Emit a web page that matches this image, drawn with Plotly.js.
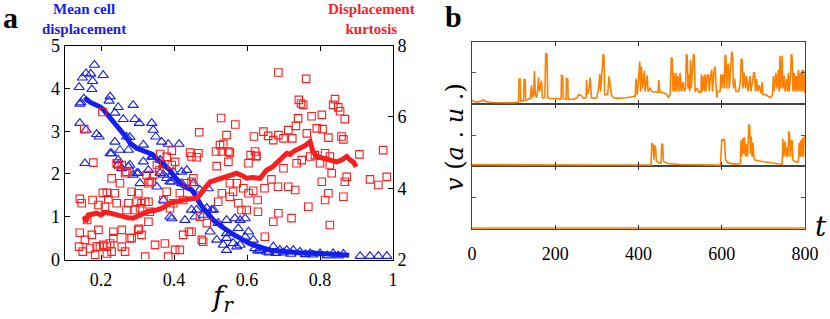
<!DOCTYPE html>
<html>
<head>
<meta charset="utf-8">
<script src="https://cdn.plot.ly/plotly-3.0.1.min.js"></script>
<style>html,body{margin:0;padding:0;background:#fff;}#chart{width:830px;height:319px;}</style>
</head>
<body>
<div id="chart"></div>
<script>
// ---------- Panel a data ----------
const triX = [0.182,0.159,0.172,0.206,0.149,0.177,0.140,0.175,0.145,0.153,0.142,0.225,0.222,0.247,0.238,0.288,0.142,0.159,0.188,0.195,
  0.261,0.293,0.305,0.339,0.343,0.350,0.270,0.279,0.238,0.316,0.366,0.384,0.414,0.225,0.252,0.156,0.229,0.275,0.247,0.257,
  0.275,0.288,0.302,0.316,0.343,0.362,0.371,0.371,0.398,0.421,0.353,0.307,0.389,0.421,0.371,0.394,0.430,0.448,0.480,0.490,
  0.508,0.499,0.521,0.544,0.517,0.544,0.572,0.581,0.595,0.595,0.581,0.622,0.389,0.458,0.494,0.471,0.362,0.330,0.298,0.247,
  0.279,0.544,0.567,0.576,0.604,0.544,0.562,0.535,0.617,0.462,0.503,0.453,0.394,0.435,0.380,0.339,
  0.636,0.654,0.672,0.690,0.709,0.727,0.745,0.773,0.800,0.836,0.864,0.630,0.660,0.680,0.700,0.720,0.760,0.780,0.820,0.850,
  0.910,0.937,0.960,0.983];
const triY = [4.55,4.35,4.34,4.31,4.25,4.17,4.03,3.98,3.67,3.76,3.64,3.81,3.71,3.56,3.43,3.61,3.19,3.03,2.93,2.87,
  3.28,3.28,3.19,3.19,3.03,2.87,2.87,2.86,2.75,2.68,2.75,2.70,2.70,2.48,2.56,2.25,2.48,2.56,2.33,2.13,
  2.17,1.98,2.02,2.29,2.40,2.33,2.21,1.98,2.05,2.05,1.70,1.78,1.82,1.78,1.39,0.96,0.92,1.16,1.04,1.20,
  1.16,0.65,0.85,0.61,0.46,0.22,0.30,0.92,0.96,0.53,0.34,0.26,1.00,1.00,1.66,1.63,2.02,2.09,2.02,2.21,
  2.21,0.92,0.96,0.73,0.65,0.50,0.38,0.34,0.46,1.16,1.16,1.78,1.82,2.09,1.90,2.40,
  0.22,0.18,0.30,0.22,0.22,0.22,0.18,0.14,0.14,0.14,0.13,0.20,0.16,0.15,0.16,0.13,0.12,0.11,0.09,0.09,
  0.08,0.08,0.08,0.08];

const sqX = [0.686,0.762,0.742,0.748,0.754,0.841,0.850,0.855,0.868,0.836,0.529,0.740,0.777,0.805,0.568,0.544,0.469,0.791,0.807,0.823,
  0.764,0.734,0.713,0.700,0.724,0.619,0.645,0.658,0.672,0.686,0.859,0.864,0.204,0.154,0.526,0.535,0.531,0.553,0.444,0.462,
  0.394,0.362,0.380,0.622,0.626,0.973,0.908,0.786,0.814,0.827,0.467,0.515,0.549,0.448,0.517,0.549,0.610,0.625,0.604,0.736,
  0.750,0.773,0.800,0.827,0.832,0.873,0.868,0.805,0.814,0.823,0.864,0.937,0.960,0.983,0.700,0.713,0.732,0.685,0.667,0.648,
  0.629,0.617,0.630,0.585,0.599,0.576,0.562,0.572,0.553,0.531,0.521,0.672,0.686,0.722,0.768,0.827,0.649,0.471,0.480,0.441,
  0.425,0.416,0.403,0.384,0.375,0.348,0.321,0.389,0.398,0.425,0.435,0.448,0.416,0.380,0.371,0.339,0.360,0.325,0.330,0.302,
  0.307,0.321,0.275,0.270,0.293,0.243,0.238,0.229,0.252,0.270,0.247,0.142,0.147,0.177,0.205,0.193,0.216,0.220,0.211,0.162,
  0.142,0.156,0.140,0.150,0.170,0.175,0.193,0.188,0.197,0.184,0.216,0.225,0.216,0.234,0.234,0.257,0.266,0.284,0.302,0.311,
  0.179,0.243,0.257,0.266,0.353,0.394,0.403,0.453,0.334,0.343,0.284,0.298,0.311,0.330,0.334,0.206,0.229,0.257,0.279,0.304,
  0.330,0.490,0.476,0.448,0.553,0.604,0.590];
const sqY = [7.25,7.07,6.48,6.38,6.34,6.50,6.27,6.16,5.94,6.34,5.97,5.96,6.02,6.06,5.79,5.49,5.57,5.68,5.66,5.42,
  5.54,5.75,5.63,5.40,5.40,5.45,5.59,5.47,5.35,5.49,5.45,5.37,6.14,5.66,5.21,5.24,5.03,5.00,5.00,4.87,
  5.05,4.96,4.88,5.03,4.91,5.07,4.95,4.93,4.98,4.89,4.98,5.03,5.03,4.89,4.62,4.74,4.93,4.89,4.70,4.70,
  4.79,4.89,4.70,4.65,4.42,4.32,4.18,4.18,3.67,3.86,3.76,4.25,4.09,4.32,4.56,4.04,3.95,4.04,4.25,4.00,
  3.67,3.93,3.34,3.39,3.39,3.58,3.90,4.14,3.76,3.86,3.62,3.06,3.30,3.16,3.48,2.97,2.64,3.20,2.50,2.78,
  2.69,2.27,2.27,2.08,2.45,2.41,2.08,3.44,3.58,3.67,4.14,4.18,3.86,3.90,3.67,4.18,4.51,4.37,4.14,3.86,
  3.44,3.62,3.58,3.39,3.39,3.58,3.86,4.28,4.14,4.46,4.65,3.70,3.58,3.67,3.87,3.53,3.87,3.69,3.48,3.11,
  2.75,2.55,2.36,2.22,2.31,2.69,2.83,2.36,2.36,2.13,2.36,2.45,2.17,2.78,2.60,2.36,2.22,2.60,2.83,2.69,
  4.72,4.70,4.65,4.42,4.65,4.65,4.74,4.28,4.18,4.37,3.90,3.62,3.58,3.62,3.34,2.41,2.22,2.83,2.60,2.86,
  3.06,3.02,2.55,2.78,4.14,3.86,4.00];

const meanX = [0.155,0.160,0.170,0.180,0.190,0.197,0.205,0.215,0.225,0.235,0.245,0.255,0.261,0.270,0.280,0.290,0.298,0.310,0.325,0.335,
  0.345,0.353,0.360,0.370,0.380,0.389,0.400,0.410,0.416,0.425,0.435,0.448,0.455,0.462,0.471,0.480,0.490,0.500,0.508,0.520,
  0.530,0.544,0.555,0.568,0.581,0.595,0.605,0.617,0.630,0.642,0.654,0.670,0.690,0.709,0.730,0.750,0.780,0.800,0.830,0.860,0.880];
const meanY = [3.72,3.75,3.68,3.65,3.60,3.57,3.52,3.42,3.34,3.20,3.10,3.02,2.95,2.85,2.72,2.65,2.60,2.56,2.52,2.48,
  2.42,2.37,2.30,2.22,2.15,2.09,1.95,1.85,1.78,1.72,1.68,1.63,1.55,1.42,1.31,1.20,1.08,1.00,0.92,0.83,
  0.77,0.69,0.62,0.56,0.50,0.42,0.38,0.34,0.30,0.26,0.24,0.21,0.19,0.18,0.16,0.15,0.15,0.14,0.12,0.10,0.10];

const kurtX = [0.155,0.158,0.165,0.175,0.188,0.200,0.210,0.225,0.240,0.250,0.261,0.275,0.288,0.300,0.316,0.330,0.353,0.370,0.389,0.405,
  0.425,0.440,0.462,0.470,0.480,0.490,0.499,0.520,0.544,0.560,0.572,0.585,0.599,0.615,0.636,0.645,0.654,0.670,0.681,0.695,
  0.709,0.718,0.730,0.745,0.760,0.773,0.780,0.791,0.805,0.818,0.830,0.846,0.860,0.873,0.882,0.891,0.899];
const kurtY = [3.20,3.05,3.25,3.28,3.30,3.25,3.32,3.30,3.25,3.22,3.20,3.17,3.16,3.22,3.30,3.35,3.39,3.45,3.58,3.62,
  3.67,3.70,3.72,3.80,3.95,4.08,4.18,4.25,4.32,4.38,4.42,4.36,4.28,4.30,4.28,4.40,4.51,4.60,4.70,4.85,
  4.98,4.95,5.05,5.12,5.20,5.31,5.05,4.89,4.85,4.79,4.78,4.74,4.80,4.89,4.80,4.74,4.60];

// ---------- Panel b data ----------
const topT = [0,5,15,25,28,32,50,80,100,110,112,113,116,117,124,125,128,129,135,140,143,145,148,150,152,155,158,160,162,165,
  167,169,175,177,180,182,190,200,214,215,218,219,226,227,230,231,245,252,256,262,268,274,275,277,280,284,287,295,300,304,
  307,309,312,315,317,319,326,329,332,335,340,350,370,380,392,394,397,400,403,405,407,410,414,416,421,423,428,432,440,447,
  449,451,460,468,472,476,479,481,483,485,487,490,492,495,498,500,503,507,510,513,515,517,519,521,523,525,527,530,532,534,
  536,541,545,550,551,553,556,558,560,562,565,568,570,573,576,578,581,584,586,588,590,596,598,600,602,604,606,608,610,612,
  614,616,618,621,624,626,628,631,634,640,644,647,649,651,654,657,660,663,666,668,670,674,677,679,681,684,686,690,694,697,
  699,705,712,717,722,724,726,730,733,736,738,740,742,745,747,750,752,756,758,760,762,765,767,769,771,774,776,779,781,784,
  786,789,791,793,795,797,800];
const topV = [0.12,0.08,0.06,0.10,0.14,0.08,0.05,0.04,0.04,0.06,0.06,0.80,0.80,0.10,0.10,0.78,0.78,0.12,0.15,0.18,0.60,0.20,0.30,1.06,0.30,0.20,0.50,0.86,0.40,0.70,
  0.75,0.20,0.20,1.63,1.60,0.20,0.17,0.18,0.16,0.92,0.90,0.18,0.15,0.82,0.80,0.16,0.15,0.20,0.30,0.28,0.18,0.20,0.77,0.30,0.40,0.85,0.20,0.18,0.20,0.50,
  0.96,0.40,0.90,1.60,1.55,0.30,0.30,0.89,0.60,0.30,0.20,0.18,0.20,0.22,0.25,0.82,0.30,0.82,1.36,0.40,1.20,0.50,1.07,0.40,0.92,0.40,0.50,0.40,0.38,0.38,
  0.77,0.38,0.37,0.30,0.21,0.30,1.50,1.45,0.40,1.00,0.40,1.00,0.40,0.90,0.40,1.00,0.40,0.70,0.40,0.50,1.60,1.55,0.50,0.95,0.40,1.40,0.50,1.00,1.60,1.55,
  0.40,0.50,0.38,0.38,0.95,0.40,0.90,0.40,0.95,0.40,0.90,0.95,0.40,0.90,1.10,0.40,1.00,1.20,0.50,0.20,0.40,0.40,0.95,0.50,0.90,0.95,0.50,1.57,1.55,0.50,
  1.20,1.30,0.50,1.00,1.68,1.60,0.50,0.82,0.40,0.40,0.60,1.47,1.40,0.50,1.00,0.50,0.90,0.40,0.85,0.90,0.40,0.80,1.00,1.00,0.40,0.80,0.40,0.60,0.35,0.70,
  0.30,0.30,0.25,0.20,0.30,0.90,0.40,1.00,0.50,1.10,0.40,1.55,0.50,1.55,0.50,0.90,0.40,0.80,0.40,1.00,0.40,0.90,1.60,1.55,0.40,1.00,0.40,0.90,0.40,1.10,
  0.40,1.00,0.40,1.10,0.40,1.10,0.35];

const midT = [0,100,200,300,400,430,432,435,437,439,441,443,450,454,456,458,460,470,500,550,597,600,603,605,607,609,615,630,645,646,
  648,651,653,655,657,660,662,665,667,669,671,673,675,677,679,690,710,730,745,747,749,752,755,757,759,761,763,765,767,769,
  771,775,780,784,786,788,790,792,794,796,798,800];
const midV = [0.04,0.03,0.03,0.03,0.03,0.03,0.72,0.70,0.20,0.66,0.60,0.15,0.10,0.10,0.72,0.70,0.15,0.08,0.05,0.03,0.03,0.86,0.80,0.86,0.84,0.20,0.10,0.06,0.08,0.83,
  0.30,0.90,0.40,0.93,0.30,0.70,0.30,1.34,1.30,0.40,0.95,0.30,0.75,0.30,0.20,0.16,0.12,0.07,0.05,0.88,0.30,0.80,0.30,0.60,0.30,1.12,1.00,0.30,0.80,0.83,
  0.20,0.15,0.12,0.14,0.75,0.30,0.83,0.30,0.90,0.30,0.95,0.90];

const botT = [0,200,400,600,800];
const botV = [0.03,0.03,0.03,0.03,0.03];

const xTicksA = [0.2,0.4,0.6,0.8,1];
const xTickTextA = ['0.2','0.4','0.6','0.8','1'];
const yTicksA = [0,1,2,3,4,5];
const y2TicksA = [2,4,6,8];
const tTicks = [0,200,400,600,800];

// ---------- styling ----------
const SERIF = 'Liberation Serif';
const MATH = 'DejaVu Serif';
const BLUE = 'rgb(20,30,240)';
const RED = 'rgb(250,30,30)';
const ORANGE = 'rgb(255,128,0)';
const W = 830, H = 319;
const fx = px => px / W;
const fy = py => 1 - py / H;

const traces = [
  {x: triX, y: triY, xaxis: 'x', yaxis: 'y', mode: 'markers', type: 'scatter',
   marker: {symbol: 'triangle-up-open', size: 9, color: BLUE, line: {width: 1.1, color: BLUE}}},
  {x: meanX, y: meanY, xaxis: 'x', yaxis: 'y', mode: 'lines', type: 'scatter',
   line: {color: BLUE, width: 5}},
  {x: sqX, y: sqY, xaxis: 'x', yaxis: 'y2', mode: 'markers', type: 'scatter',
   marker: {symbol: 'square-open', size: 7.5, color: RED, line: {width: 1.1, color: RED}}},
  {x: kurtX, y: kurtY, xaxis: 'x', yaxis: 'y2', mode: 'lines', type: 'scatter',
   line: {color: RED, width: 5}},
  {x: botT, y: botV, xaxis: 'x2', yaxis: 'y3', mode: 'lines', type: 'scatter', line: {color: ORANGE, width: 1.6}},
  {x: midT, y: midV, xaxis: 'x3', yaxis: 'y4', mode: 'lines', type: 'scatter', line: {color: ORANGE, width: 1.6}},
  {x: topT, y: topV, xaxis: 'x4', yaxis: 'y5', mode: 'lines', type: 'scatter', line: {color: ORANGE, width: 1.6}}
];

const tickFont = {family: SERIF, size: 18, color: '#000'};
const bDom = [fx(472), fx(805)];
const panelY = (anchor, dom) => ({
  domain: dom, anchor: anchor, range: [0, 2], tickvals: [1], showticklabels: false,
  ticks: 'inside', ticklen: 4, tickcolor: '#555', showline: true, mirror: 'ticks',
  linecolor: '#444', linewidth: 1, showgrid: false, zeroline: false
});
const panelX = (anchor, labels) => ({
  domain: bDom, anchor: anchor, range: [0, 800], tickvals: tTicks, showticklabels: labels,
  ticks: 'inside', ticklen: 4, tickcolor: '#333', showline: true, mirror: 'ticks',
  linecolor: '#444', linewidth: 1, showgrid: false, zeroline: false, tickfont: tickFont,
  ticklabelstandoff: 8
});

const layout = {
  width: W, height: H, margin: {l: 0, r: 0, t: 0, b: 0},
  paper_bgcolor: '#fff', plot_bgcolor: 'rgba(0,0,0,0)', showlegend: false,
  font: {family: SERIF, color: '#000'},
  xaxis: {domain: [fx(64.5), fx(393)], anchor: 'y', range: [0.1, 1], tickvals: xTicksA, ticktext: xTickTextA,
    ticks: 'inside', ticklen: 5, tickcolor: '#000', showline: true, mirror: 'ticks', linecolor: '#000', linewidth: 1,
    showgrid: false, zeroline: false, tickfont: tickFont, ticklabelstandoff: 4},
  yaxis: {domain: [fy(259.5), fy(45.7)], anchor: 'x', range: [0, 5], tickvals: yTicksA,
    ticks: 'inside', ticklen: 5, tickcolor: '#000', showline: true, linecolor: '#000', linewidth: 1,
    showgrid: false, zeroline: false, tickfont: tickFont},
  yaxis2: {overlaying: 'y', side: 'right', anchor: 'x', range: [2, 8], tickvals: y2TicksA,
    ticks: 'inside', ticklen: 5, tickcolor: '#000', showline: true, linecolor: '#000', linewidth: 1,
    showgrid: false, zeroline: false, tickfont: tickFont},
  xaxis2: panelX('y3', true),
  xaxis3: panelX('y4', false),
  xaxis4: panelX('y5', false),
  yaxis3: panelY('x2', [fy(229), fy(166)]),
  yaxis4: panelY('x3', [fy(166), fy(104)]),
  yaxis5: panelY('x4', [fy(104), fy(41.7)]),
  annotations: [
    {text: '<b>a</b>', x: fx(1), y: fy(18), xref: 'paper', yref: 'paper', xanchor: 'left', yanchor: 'middle', showarrow: false,
     font: {family: SERIF, size: 30, color: '#000'}},
    {text: '<b>b</b>', x: fx(453), y: fy(17), xref: 'paper', yref: 'paper', xanchor: 'center', yanchor: 'middle', showarrow: false,
     font: {family: SERIF, size: 30, color: '#000'}},
    {text: '<b>Mean cell</b><br><b>displacement</b>', x: fx(84), y: 1, xref: 'paper', yref: 'paper', xanchor: 'center', yanchor: 'top', showarrow: false,
     align: 'center', borderpad: 0, font: {family: SERIF, size: 15, color: BLUE}},
    {text: '<b>Displacement</b><br><b>kurtosis</b>', x: fx(371), y: 1, xref: 'paper', yref: 'paper', xanchor: 'center', yanchor: 'top', showarrow: false,
     align: 'center', borderpad: 0, font: {family: SERIF, size: 15, color: RED}},
    {text: '<i>f</i><sub><i>r</i></sub>', x: fx(222), y: fy(298), xref: 'paper', yref: 'paper', xanchor: 'center', yanchor: 'middle', showarrow: false,
     font: {family: MATH, size: 28, color: '#000'}},
    {text: '<i>t</i>', x: fx(821), y: fy(226), xref: 'paper', yref: 'paper', xanchor: 'center', yanchor: 'middle', showarrow: false,
     font: {family: MATH, size: 28, color: '#000'}},
    {text: '<i>v</i> (<i>a</i> . <i>u</i> .)', x: fx(455), y: fy(137), xref: 'paper', yref: 'paper', xanchor: 'center', yanchor: 'middle', showarrow: false,
     textangle: -90, font: {family: MATH, size: 24, color: '#000'}}
  ]
};

Plotly.newPlot('chart', traces, layout, {staticPlot: true, displayModeBar: false});
</script>
</body>
</html>
